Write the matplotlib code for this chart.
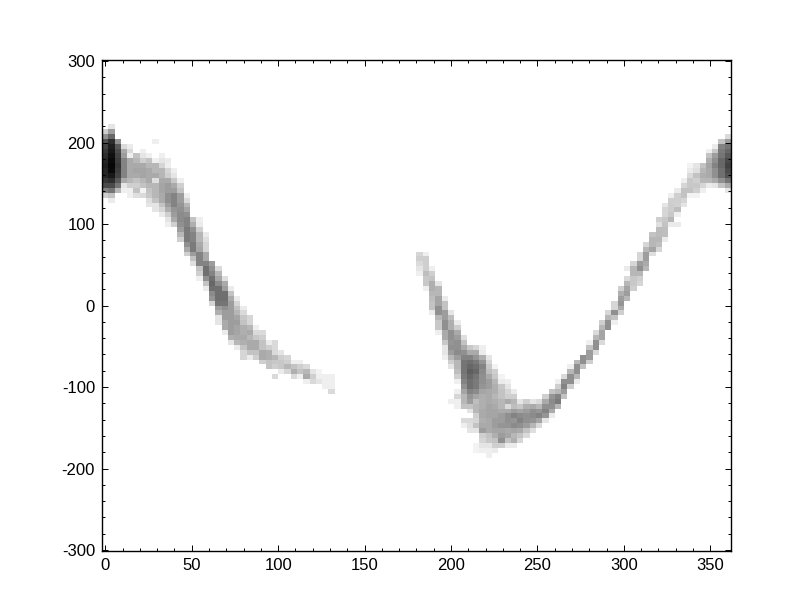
import numpy as np
import matplotlib
matplotlib.use("Agg")
import matplotlib.pyplot as plt
from matplotlib.colors import PowerNorm
from matplotlib.ticker import FixedLocator

plt.rcParams['font.family'] = ['Liberation Sans', 'DejaVu Sans']
plt.rcParams['axes.unicode_minus'] = False

N_BINS = 100
x_range = (-1.9, 362.0)
y_range = (-301.0, 301.0)
x_ticks = [0, 50, 100, 150, 200, 250, 300, 350]
y_ticks = [-300, -200, -100, 0, 100, 200, 300]
x_minor_ticks = list(range(0, 351, 10))
y_minor_ticks = list(range(-300, 301, 20))

# Each entry: (first bin counted from the top, shades of consecutive bins)
left_first_col = 0
left_columns = [
 (14, [25,50,72,78,82,85,88,90,88,88,82,75,55,25]),
 (13, [15,45,65,85,90,92,95,97,98,97,92,85,75,60,30,12]),
 (16, [50,70,75,78,80,82,80,78,70,60,35]),
 (17, [20,40,45,55,55,55,55,40,15,10]),
 (17, [12,20,10,40,40,40,40,35,25,10,10]),
 (19, [30,35,40,42,40,30,25,30,18]),
 (18, [10,15,25,40,42,42,35,30,8,20]),
 (19, [10,30,35,40,40,40,35,30,28,18,15]),
 (16, [10,0,0,0,10,35,35,40,18,35,35,35,30,15,15]),
 (19, [10,15,22,35,35,40,42,42,40,40,30,22,12]),
 (20, [12,10,22,25,40,45,45,50,50,45,38,25,15,10]),
 (22, [10,15,28,40,45,55,55,55,48,45,40,25]),
 (24, [10,25,30,45,45,48,50,52,52,50,45,35,25]),
 (27, [10,20,35,42,50,55,55,58,58,58,50,40,25]),
 (32, [30,38,50,55,55,58,58,45,30,18]),
 (32, [10,12,25,35,35,40,42,55,55,55,30,25,10]),
 (35, [12,18,22,22,40,40,55,62,62,50,30,12]),
 (41, [45,50,55,62,65,62,52,48,22]),
 (42, [20,35,42,52,62,62,62,60,45,38,15,15]),
 (44, [18,40,45,62,62,60,50,45,45,40,40,12]),
 (46, [12,30,40,45,45,45,45,45,45,45,38,15]),
 (48, [12,22,30,35,42,45,42,42,40,35,12]),
 (50, [12,20,28,30,38,38,40,38,30,22,22]),
 (52, [22,22,35,40,35,40,40,30,12]),
 (54, [10,20,28,40,40,30,25]),
 (55, [20,25,30,30,40,40,25]),
 (57, [12,25,38,38,30,30]),
 (57, [20,20,20,35,28,25,0,20]),
 (59, [15,25,28,28,12]),
 (60, [22,25,35,22]),
 (61, [10,30,38,20]),
 (61, [10,25,30,10]),
 (62, [20,35,40,10]),
 (63, [15,25,20]),
 (63, [8,10,15]),
 (64, [10,10,10]),
 (64, [10,10,10,20]),
]

right_first_col = 50
right_columns = [
 (39, [22,25,20,15,10]),
 (39, [10,25,25,25,32,28,28,10]),
 (42, [10,25,30,38,38,35,32,30,30,12]),
 (45, [15,35,35,42,42,50,50,35,28,28,10]),
 (48, [12,30,30,45,45,50,50,40,40,28,15,15,10]),
 (51, [15,32,38,38,50,50,48,50,45,35,25,15,0,0,0,0,0,0,10]),
 (53, [12,25,40,45,50,50,52,45,35,35,32,25,10,0,10,22,10,10]),
 (56, [18,30,40,50,55,60,60,60,58,55,50,42,35,35,30,0,0,20,10]),
 (58, [28,40,55,62,65,68,65,62,62,55,48,45,30,15,0,20,18,15]),
 (58, [22,40,48,58,62,65,60,58,58,52,42,32,35,35,25,22,30,15,0,0,8,8]),
 (58, [10,12,38,48,55,52,50,50,48,42,38,38,38,40,40,38,40,45,25,22,15,10]),
 (60, [15,22,28,32,40,45,45,40,40,40,42,42,42,40,40,40,30,28,15,10,10]),
 (62, [8,25,28,35,38,38,35,38,40,42,42,45,45,42,38,30,25,12]),
 (64, [8,12,28,30,30,35,35,40,45,45,48,42,45,50,25]),
 (65, [10,15,22,25,40,20,40,50,50,48,40,42,30,12]),
 (67, [12,25,35,32,45,55,48,52,42,35,38,12]),
 (69, [15,28,42,52,55,50,40,30,22]),
 (69, [25,38,45,50,50,45,30,20]),
 (69, [15,40,50,52,48,35,18]),
 (69, [20,35,48,55,42,20]),
 (68, [25,40,50,55,48,15]),
 (67, [30,48,52,50,40,12]),
 (65, [10,25,35,55,58,35]),
 (64, [20,50,55,45,30]),
 (62, [10,35,50,50,25]),
 (61, [35,50,50,35,12]),
 (60, [50,50,30]),
 (57, [10,30,45,45,25]),
 (55, [20,35,50,50,20]),
 (53, [25,35,42,42,20]),
 (51, [22,35,50,50]),
 (49, [22,22,50,30,10]),
 (46, [25,38,45,48,40,25]),
 (42, [12,0,20,35,42,45,35]),
 (41, [22,35,35,28,28,25]),
 (39, [22,22,45,50,35,25,22]),
 (37, [22,35,45,45,40,35]),
 (35, [30,35,35,42,18]),
 (32, [25,18,33,33,35,32,22]),
 (29, [15,22,22,28,30,32,32,12]),
 (27, [10,25,26,26,28,35,12]),
 (26, [12,25,25,24,32,10,0,12]),
 (24, [10,22,30,30,22,15]),
 (21, [8,12,20,28,28,30,8]),
 (21, [15,18,30,25,28,25,8]),
 (21, [30,35,38,35,22,10]),
 (18, [10,30,38,42,40,40,35,12]),
 (17, [12,28,45,50,55,50,50,40,15]),
 (16, [30,55,58,60,65,65,62,62,50,30]),
 (15, [20,45,60,65,70,75,78,75,72,60,40,15]),
]

grid = np.zeros((N_BINS, N_BINS))
for first_col, columns in ((left_first_col, left_columns), (right_first_col, right_columns)):
    for offset, (first_row, shades) in enumerate(columns):
        for k, shade in enumerate(shades):
            grid[N_BINS - 1 - (first_row + k), first_col + offset] = shade

x_edges = np.linspace(x_range[0], x_range[1], N_BINS + 1)
y_edges = np.linspace(y_range[0], y_range[1], N_BINS + 1)

fig = plt.figure(figsize=(8.12, 6.12), dpi=100)
ax = fig.add_axes([102/812, 1 - 550.8/612, (731-102)/812, (550.8-60.3)/612])
ax.pcolormesh(x_edges, y_edges, np.ma.masked_equal(grid, 0), cmap='gray_r',
              norm=PowerNorm(gamma=1.2, vmin=0, vmax=100), linewidth=0, rasterized=True)
ax.set_xlim(*x_range)
ax.set_ylim(*y_range)
ax.set_xticks(x_ticks)
ax.set_yticks(y_ticks)
ax.xaxis.set_minor_locator(FixedLocator(x_minor_ticks))
ax.yaxis.set_minor_locator(FixedLocator(y_minor_ticks))
ax.tick_params(which='both', direction='in', top=True, right=True, width=0.7, labelsize=12, pad=5)
ax.tick_params(which='major', length=4.5)
ax.tick_params(which='minor', length=2.2)
for s in ax.spines.values():
    s.set_linewidth(1.0)
fig.savefig('out.png', dpi=100)
